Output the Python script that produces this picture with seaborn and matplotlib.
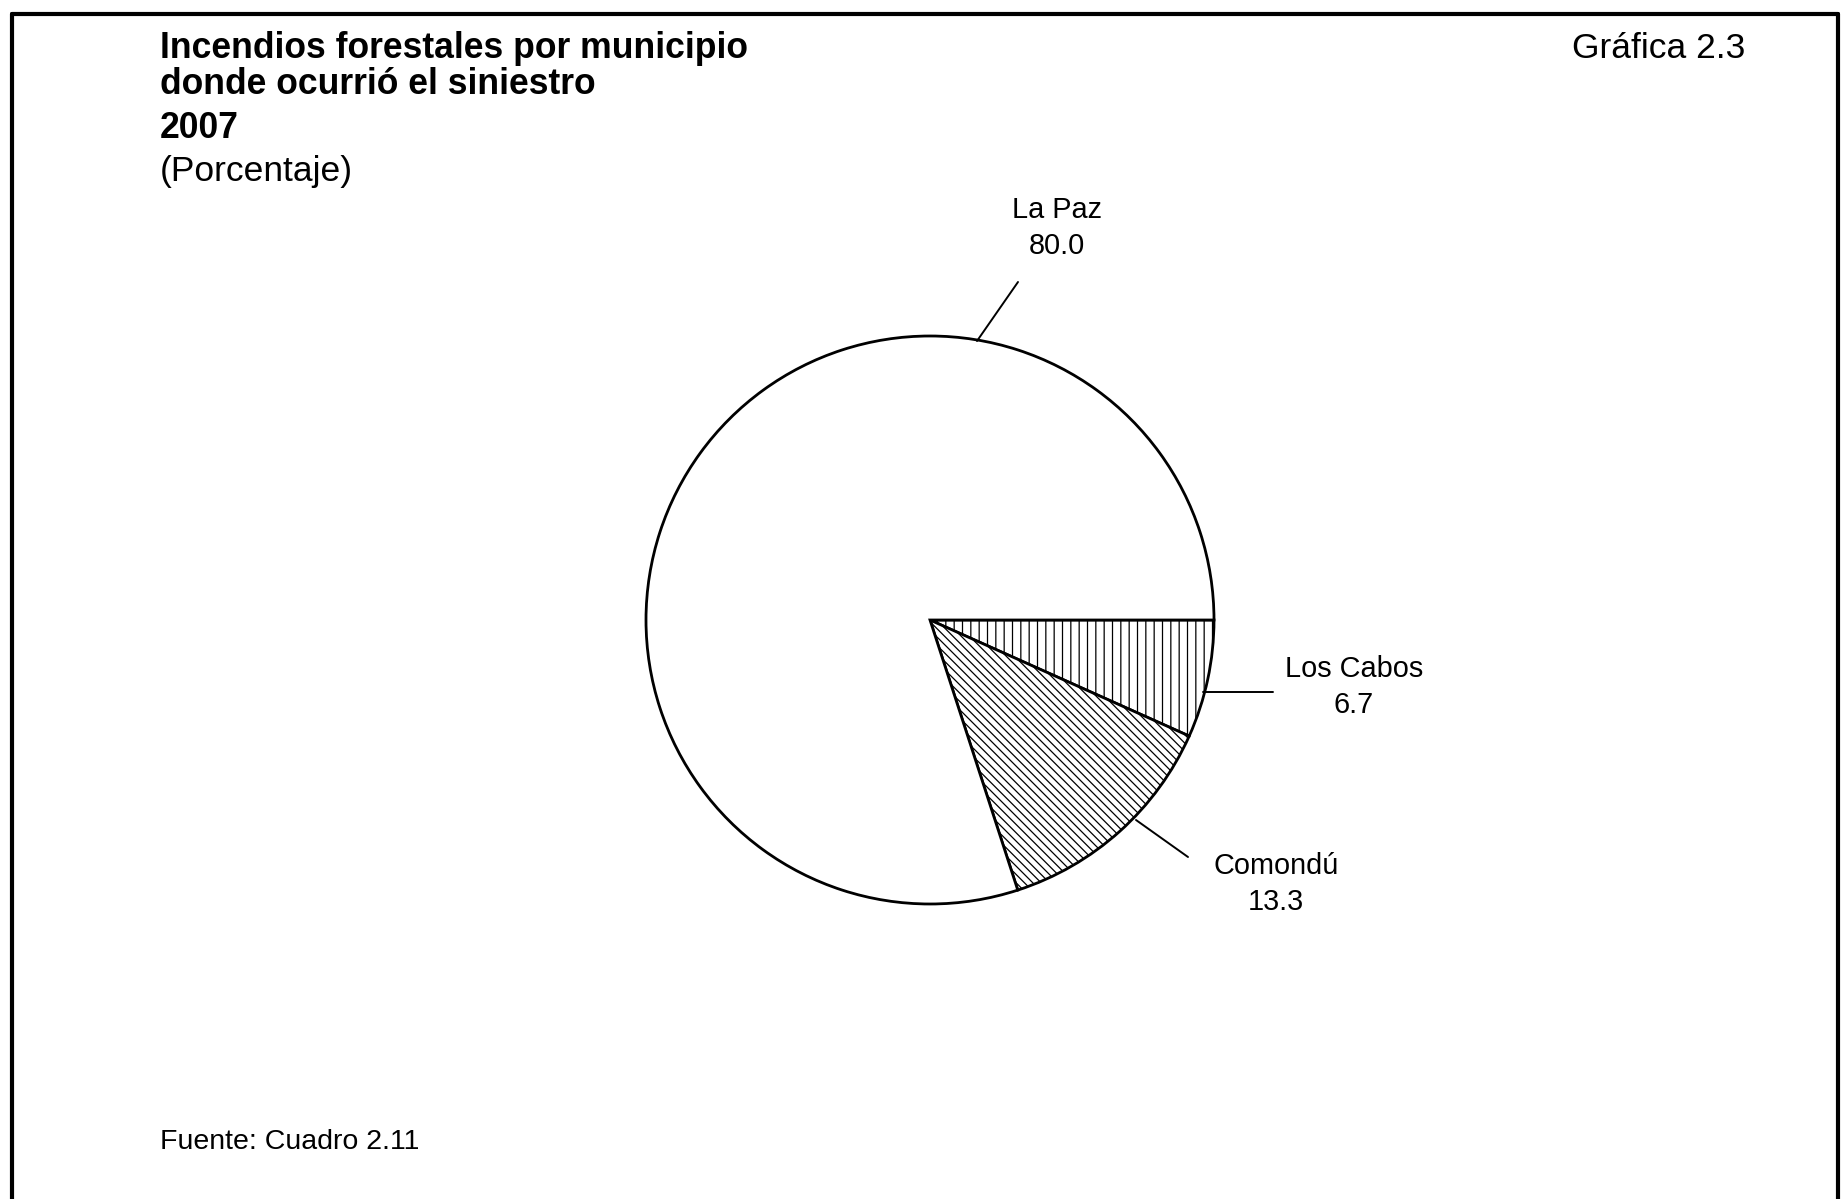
import matplotlib
matplotlib.use("Agg")
import matplotlib.pyplot as plt
import seaborn as sns
from matplotlib.lines import Line2D

# === Data ===
municipios = ["Los Cabos", "Comondú", "La Paz"]
porcentajes = [6.7, 13.3, 80.0]
hatches = ["||", "\\\\\\\\", ""]

titulo = ["Incendios forestales por municipio", "donde ocurrió el siniestro", "2007"]
subtitulo = "(Porcentaje)"
grafica = "Gráfica 2.3"
fuente = "Fuente: Cuadro 2.11"

# === Style ===
sns.set_theme(style="white")
plt.rcParams["font.family"] = ["Liberation Sans", "DejaVu Sans"]
plt.rcParams["text.color"] = "black"
plt.rcParams["hatch.linewidth"] = 0.9

W, H, DPI = 1845, 1199, 100
fig = plt.figure(figsize=(W / DPI, H / DPI), dpi=DPI)
fig.patch.set_facecolor("white")

# pie centre / radius in pixels
cx, cy, r = 930, 620, 284
ax = fig.add_axes([0, 0, 1, 1])

wedges, _ = ax.pie(porcentajes, startangle=0, counterclock=False, radius=1,
                   colors=["white"] * 3,
                   wedgeprops=dict(edgecolor="black", linewidth=2.0))
for w, h in zip(wedges, hatches):
    w.set_hatch(h)

ax.set_xlim(-cx / r, (W - cx) / r)
ax.set_ylim(-(H - cy) / r, cy / r)
ax.axis("off")


def px(x, y):
    # pixel -> data coords (pie radius = 1)
    return (x - cx) / r, (cy - y) / r


# labels + leader lines
etiquetas = {
    "La Paz": dict(text=(1057, 228), line=[(977, 341), (1018, 282)]),
    "Los Cabos": dict(text=(1354, 687), line=[(1203, 692), (1273, 692)]),
    "Comondú": dict(text=(1276, 884), line=[(1136, 820), (1188, 857)]),
}
for nombre, valor in zip(municipios, porcentajes):
    e = etiquetas[nombre]
    tx, ty = px(*e["text"])
    ax.text(tx, ty, f"{nombre}\n{valor:.1f}", ha="center", va="center",
            fontsize=20.8, linespacing=1.35, color="black")
    (x0, y0), (x1, y1) = [px(*p) for p in e["line"]]
    ax.plot([x0, x1], [y0, y1], color="black", lw=1.4)

# === Titles ===
def fy(y):
    return 1 - y / H


for t, y in zip(titulo, [48, 84, 128]):
    fig.text(160 / W, fy(y), t, fontsize=25.6, fontweight="bold", va="center", ha="left")
fig.text(160 / W, fy(171), subtitulo, fontsize=25.5, va="center", ha="left")
fig.text(1745 / W, fy(48), grafica, fontsize=25.5, va="center", ha="right")
fig.text(160 / W, fy(1142), fuente, fontsize=20.5, va="center", ha="left")

# frame (open at the bottom)
for xs, ys in [([12, 12], [14, H]), ([12, 1838], [14, 14]), ([1838, 1838], [14, H])]:
    fig.add_artist(Line2D([x / W for x in xs], [fy(y) for y in ys],
                          color="black", lw=3, transform=fig.transFigure))

fig.savefig("out.png", dpi=DPI, facecolor="white")
